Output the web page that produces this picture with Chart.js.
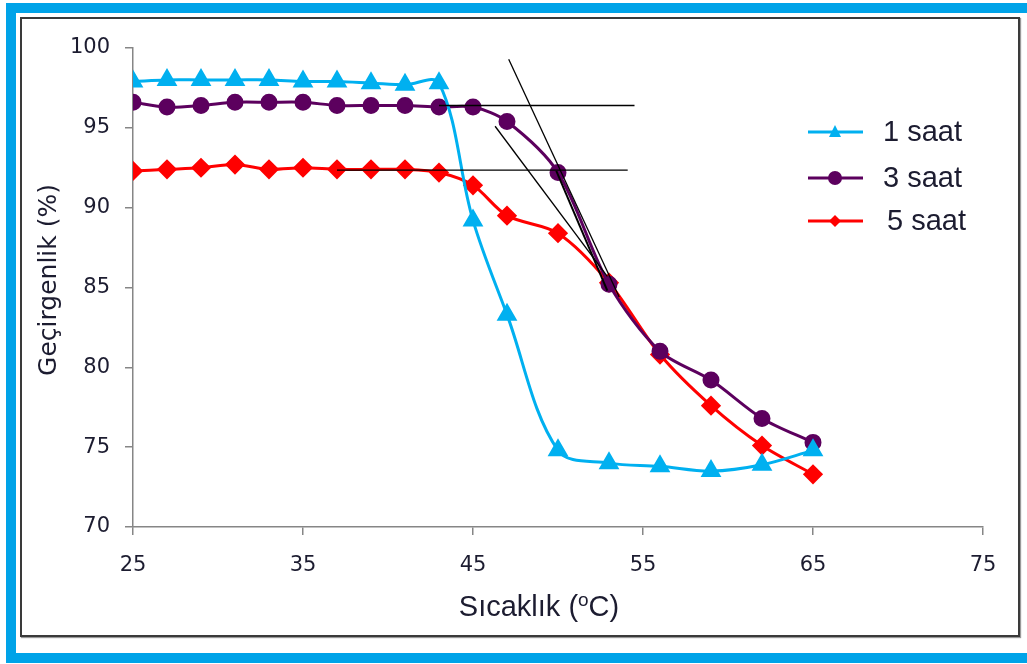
<!DOCTYPE html>
<html lang="tr">

<head>
  <meta charset="UTF-8" />
  <title>Geçirgenlik - Sıcaklık</title>
  <script src="https://cdn.jsdelivr.net/npm/chart.js"></script>
  <style>
    body {
      margin: 0;
      background: #fff;
    }

    .wrap {
      position: relative;
      width: 1027px;
      height: 664px;
      overflow: hidden;
    }

    /* outer blue frame, right side runs off the picture */
    .blue-frame {
      position: absolute;
      left: 6px;
      top: 3px;
      width: 1060px;
      height: 660px;
      box-sizing: border-box;
      border: 10px solid #00a3e8;
    }

    .black-frame {
      position: absolute;
      left: 20px;
      top: 17px;
      width: 1000px;
      height: 620px;
      box-sizing: border-box;
      border: 2px solid #3a3a3a;
      box-shadow: 1px 1px 1px #999;
    }

    canvas {
      position: absolute;
      left: 0;
      top: 0;
    }
  </style>
</head>

<body>
  <div class="wrap">
    <div class="blue-frame"></div>
    <div class="black-frame"></div>
    <canvas id="myChart" width="1027" height="664"></canvas>
  </div>

  <script>
    // values
    const temps = [25, 27, 29, 31, 33, 35, 37, 39, 41, 43, 45, 47, 50, 53, 56, 59, 62, 65];
    const saat1 = [97.9, 98.0, 98.0, 98.0, 98.0, 97.9, 97.9, 97.8, 97.7, 97.8, 89.2, 83.3, 74.8, 74.0, 73.8, 73.5, 73.9, 74.8];
    const saat3 = [96.6, 96.3, 96.4, 96.6, 96.6, 96.6, 96.4, 96.4, 96.4, 96.3, 96.3, 95.4, 92.2, 85.2, 81.0, 79.2, 76.8, 75.3];
    const saat5 = [92.3, 92.4, 92.5, 92.7, 92.4, 92.5, 92.4, 92.4, 92.4, 92.2, 91.4, 89.5, 88.4, 85.3, 80.8, 77.6, 75.1, 73.3];

    const seriesNames = ['1 saat', '3 saat', '5 saat'];
    const seriesColors = ['#00b0f0', '#5c005e', '#ff0000'];

    // hand drawn tangent lines [x1, y1, x2, y2]
    const tangentH1 = [43, 96.4, 54.5, 96.4];
    const tangentH2 = [37, 92.35, 54.1, 92.35];
    const tangentSteep = [47.1, 99.3, 53.6, 84.4];
    const tangentFlat = [46.3, 95.1, 52.9, 85.7];
    const tangentCurve = [49.9, 92.3, 52.9, 84.8];

    const xTicks = [25, 35, 45, 55, 65, 75];
    const yTicks = [70, 75, 80, 85, 90, 95, 100];

    const textColor = '#1c1c30';
    const axisColor = '#868686';

    function toPoints(xs, ys) {
      return xs.map((x, i) => ({ x: x, y: ys[i] }));
    }

    function segment(arr) {
      return [{ x: arr[0], y: arr[1] }, { x: arr[2], y: arr[3] }];
    }

    function tangent(arr, width) {
      return {
        label: '',
        data: segment(arr),
        borderColor: '#000',
        borderWidth: width,
        pointRadius: 0,
        tension: 0,
        order: -1,
      };
    }

    // legend drawn by hand inside the plot, like the original
    const sideLegend = {
      id: 'sideLegend',
      afterDraw(chart) {
        const ctx = chart.ctx;
        const rows = [132, 178, 221];
        const textX = [883, 883, 887];
        ctx.save();
        seriesNames.forEach((name, i) => {
          const y = rows[i];
          const c = seriesColors[i];
          ctx.strokeStyle = c;
          ctx.fillStyle = c;
          ctx.lineWidth = 3;
          ctx.beginPath();
          ctx.moveTo(808, y);
          ctx.lineTo(863, y);
          ctx.stroke();
          ctx.beginPath();
          if (i === 0) {
            ctx.moveTo(835, y - 7);
            ctx.lineTo(841, y + 5);
            ctx.lineTo(829, y + 5);
          } else if (i === 1) {
            ctx.arc(835, y, 7, 0, Math.PI * 2);
          } else {
            ctx.moveTo(835, y - 6);
            ctx.lineTo(841, y);
            ctx.lineTo(835, y + 6);
            ctx.lineTo(829, y);
          }
          ctx.closePath();
          ctx.fill();
          ctx.fillStyle = textColor;
          ctx.font = '29px "Liberation Sans", Arial, sans-serif';
          ctx.textBaseline = 'middle';
          ctx.textAlign = 'left';
          ctx.fillText(name, textX[i], y + 1);
        });
        ctx.restore();
      }
    };

    // axis titles, placed where the original has them
    const axisTitles = {
      id: 'axisTitles',
      afterDraw(chart) {
        const ctx = chart.ctx;
        ctx.save();
        ctx.fillStyle = textColor;
        ctx.textBaseline = 'alphabetic';

        // x title with a raised small "o"
        const big = '29px "Liberation Sans", Arial, sans-serif';
        const small = '19px "Liberation Sans", Arial, sans-serif';
        const p1 = 'Sıcaklık (';
        const p2 = 'o';
        const p3 = 'C)';
        ctx.font = big;
        const w1 = ctx.measureText(p1).width;
        const w3 = ctx.measureText(p3).width;
        ctx.font = small;
        const w2 = ctx.measureText(p2).width;
        let x = 539 - (w1 + w2 + w3) / 2;
        const base = 616;
        ctx.font = big;
        ctx.textAlign = 'left';
        ctx.fillText(p1, x, base);
        x += w1;
        ctx.font = small;
        ctx.fillText(p2, x, base - 10);
        x += w2;
        ctx.font = big;
        ctx.fillText(p3, x, base);

        // y title
        ctx.translate(49, 280);
        ctx.rotate(-Math.PI / 2);
        ctx.font = '25px "DejaVu Sans", sans-serif';
        ctx.textAlign = 'center';
        ctx.textBaseline = 'middle';
        ctx.fillText('Geçirgenlik (%)', 0, 0);
        ctx.restore();
      }
    };

    const datasets = [
      tangent(tangentH1, 1.3),
      tangent(tangentH2, 1.3),
      tangent(tangentSteep, 1.3),
      tangent(tangentFlat, 1.3),
      tangent(tangentCurve, 2),
      {
        label: seriesNames[0],
        data: toPoints(temps, saat1),
        borderColor: seriesColors[0],
        backgroundColor: seriesColors[0],
        borderWidth: 3,
        pointStyle: 'triangle',
        pointRadius: 9,
        tension: 0.35,
      },
      {
        label: seriesNames[1],
        data: toPoints(temps, saat3),
        borderColor: seriesColors[1],
        backgroundColor: seriesColors[1],
        borderWidth: 3,
        pointStyle: 'circle',
        pointRadius: 7,
        tension: 0.3,
      },
      {
        label: seriesNames[2],
        data: toPoints(temps, saat5),
        borderColor: seriesColors[2],
        backgroundColor: seriesColors[2],
        borderWidth: 3,
        pointStyle: 'rectRot',
        pointRadius: 8,
        tension: 0.3,
      },
    ];

    new Chart(document.getElementById('myChart'), {
      type: 'line',
      data: { datasets: datasets },
      options: {
        responsive: false,
        animation: false,
        layout: {
          padding: { left: 0, top: 48, right: 44, bottom: 0 },
        },
        plugins: {
          legend: { display: false },
          tooltip: { enabled: false },
        },
        scales: {
          x: {
            type: 'linear',
            min: 25,
            max: 75,
            afterFit: (scale) => { scale.height = 137; },
            afterBuildTicks: (scale) => { scale.ticks = xTicks.map(v => ({ value: v })); },
            border: { display: true, color: axisColor, width: 1.5 },
            grid: { drawOnChartArea: false, color: axisColor, tickLength: 8, lineWidth: 1.5 },
            ticks: {
              color: textColor,
              padding: 18,
              maxRotation: 0,
              font: { family: '"DejaVu Sans", sans-serif', size: 21 },
            },
          },
          y: {
            min: 70,
            max: 100,
            afterFit: (scale) => { scale.width = 133; },
            afterBuildTicks: (scale) => { scale.ticks = yTicks.map(v => ({ value: v })); },
            border: { display: true, color: axisColor, width: 1.5 },
            grid: { drawOnChartArea: false, color: axisColor, tickLength: 8, lineWidth: 1.5 },
            ticks: {
              color: textColor,
              padding: 15,
              font: { family: '"DejaVu Sans", sans-serif', size: 21 },
            },
          },
        },
      },
      plugins: [sideLegend, axisTitles],
    });
  </script>
</body>

</html>
